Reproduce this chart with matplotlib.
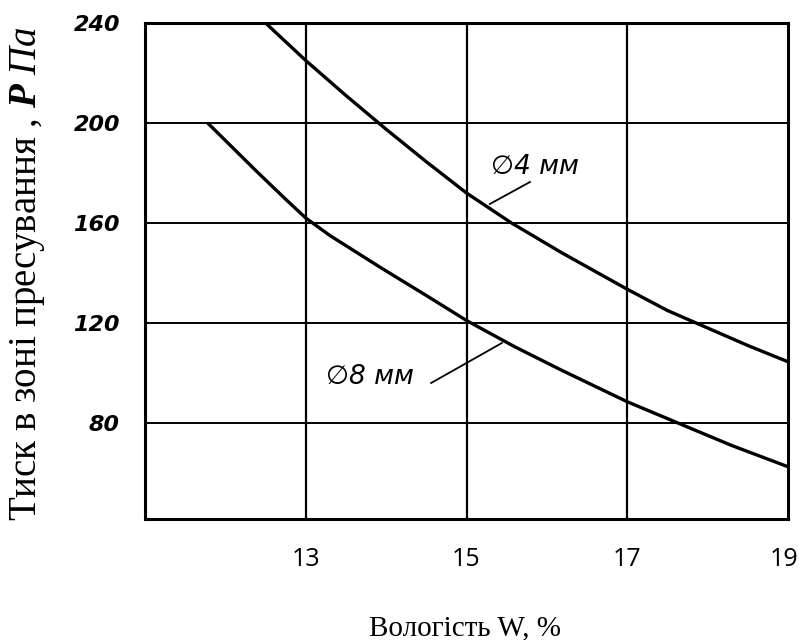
import matplotlib.pyplot as plt
from matplotlib.transforms import ScaledTranslation

plt.rcParams['mathtext.fontset'] = 'custom'
plt.rcParams['mathtext.rm'] = 'Liberation Serif'
plt.rcParams['mathtext.it'] = 'Liberation Serif:italic'
plt.rcParams['mathtext.bf'] = 'Liberation Serif:style=italic:weight=bold'

# крива для діаметра 4 мм
w_4 = [12.5, 13.0, 13.5, 14.0, 14.5, 15.0, 15.56, 16.19, 17.0, 17.5, 18.0, 18.5, 19.0]
p_4 = [240, 225, 211, 197.5, 184.5, 172, 160, 148, 133.5, 125, 118, 111, 104.5]

# крива для діаметра 8 мм
w_8 = [11.78, 12.4, 12.75, 13.0, 13.3, 13.94, 14.5, 15.0, 15.6, 16.19, 17.0, 17.63, 18.3, 19.0]
p_8 = [200, 180.3, 169.5, 162, 155, 142, 131, 121, 110.5, 101, 88.5, 80, 71, 62.5]

x_ticks = [13, 15, 17, 19]
y_ticks = [80, 120, 160, 200, 240]

fig = plt.figure(figsize=(7.99, 6.4), dpi=100)
ax = fig.add_axes([145 / 799, 1 - 519 / 640, (788 - 145) / 799, (519 - 23) / 640])

ax.set_xlim(11, 19)
ax.set_ylim(41.6, 240)

for x in x_ticks[:-1]:
    ax.axvline(x, color='black', lw=1.6, zorder=1)
for y in y_ticks[:-1]:
    ax.axhline(y, color='black', lw=1.4, zorder=1)

ax.plot(w_4, p_4, color='black', lw=2.4, solid_capstyle='butt', zorder=3)
ax.plot(w_8, p_8, color='black', lw=2.4, solid_capstyle='butt', zorder=3)

# виноски
ax.plot([15.79, 15.29], [176.4, 167.6], color='black', lw=1.3)
ax.plot([14.56, 15.44], [96, 112], color='black', lw=1.3)
ax.text(15.31, 182.4, '∅4 мм', fontsize=19, style='italic', ha='left', va='center')
ax.text(13.25, 98.4, '∅8 мм', fontsize=19, style='italic', ha='left', va='center')

for s in ax.spines.values():
    s.set_linewidth(2.2)
    s.set_color('black')

ax.set_xticks(x_ticks)
ax.set_yticks(y_ticks)
ax.tick_params(length=0)
ax.tick_params(axis='x', pad=20, labelsize=18)
ax.tick_params(axis='y', pad=18, labelsize=16)
xlabels = ax.get_xticklabels()
for lab in xlabels:
    lab.set_family('Open Sans')
# останню позначку трохи зсунути, щоб не обрізалась
xlabels[-1].set_transform(xlabels[-1].get_transform() + ScaledTranslation(-0.04, 0, fig.dpi_scale_trans))
for lab in ax.get_yticklabels():
    lab.set_style('italic')
    lab.set_weight('bold')

fig.text(465 / 799, 1 - 628 / 640, 'Вологість W, %', family='Liberation Serif',
         fontsize=21, ha='center', va='center')
fig.text(28 / 799, 1 - 274 / 640, r'Тиск в зоні пресування , $\mathbf{P}$ $\mathit{Па}$',
         family='Liberation Serif', fontsize=28, rotation=90, ha='center', va='center')

fig.savefig('out.png', dpi=100)
